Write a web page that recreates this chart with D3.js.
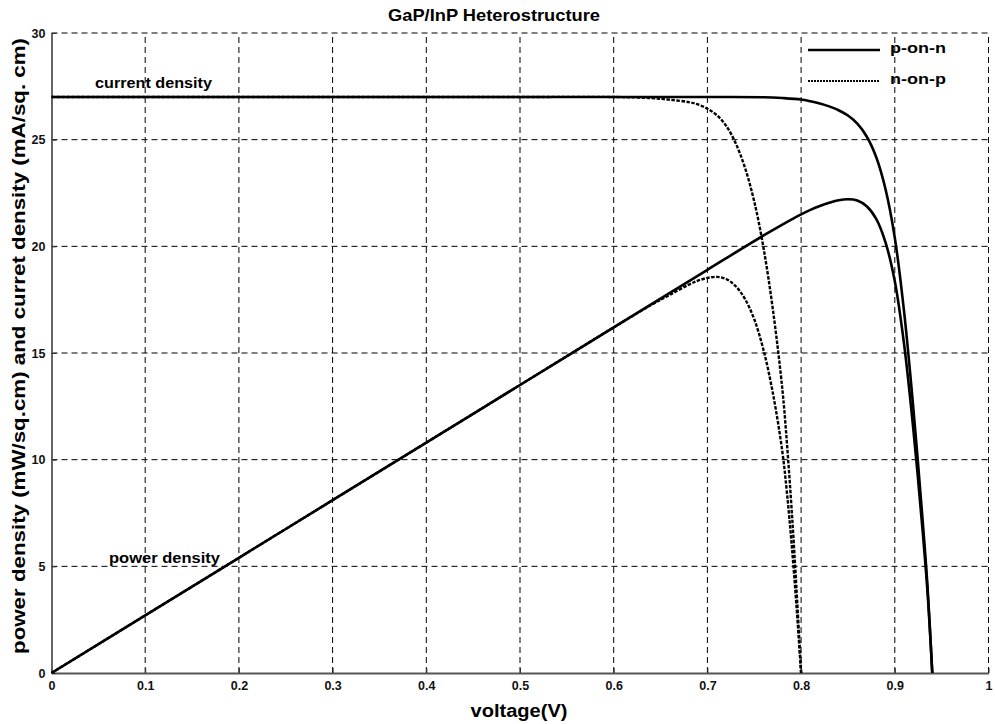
<!DOCTYPE html>
<html>
<head>
<meta charset="utf-8">
<script src="https://cdn.jsdelivr.net/npm/d3@7"></script>
<style>
  html, body { margin: 0; padding: 0; background: #fff; }
  svg { display: block; font-family: "Liberation Sans", Arial, sans-serif; }
</style>
</head>
<body>
<svg id="chart" width="995" height="724"></svg>
<script>
// GaP/InP heterostructure: J-V and P-V curves for two cell polarities

const xTicks = [0, 0.1, 0.2, 0.3, 0.4, 0.5, 0.6, 0.7, 0.8, 0.9, 1];
const yTicks = [0, 5, 10, 15, 20, 25, 30];

// p-on-n structure
const pnVoltage = [0, 0.1, 0.2, 0.3, 0.4, 0.5, 0.6, 0.7, 0.76, 0.78, 0.80, 0.81, 0.82, 0.83, 0.84, 0.85, 0.86, 0.87, 0.88, 0.89, 0.90, 0.91, 0.92, 0.93, 0.935, 0.94];
const pnCurrent = [27, 27, 27, 27, 27, 27, 27, 27, 26.99, 26.95, 26.88, 26.8, 26.7, 26.56, 26.38, 26.13, 25.75, 25.15, 24.2, 22.7, 20.4, 16.9, 12.3, 7.0, 4.0, 0];
const pnPower   = [0, 2.7, 5.4, 8.1, 10.8, 13.5, 16.2, 18.9, 20.51, 21.02, 21.50, 21.71, 21.89, 22.04, 22.16, 22.21, 22.15, 21.88, 21.30, 20.20, 18.36, 15.38, 11.32, 6.51, 3.74, 0];

// n-on-p structure
const npVoltage = [0, 0.1, 0.2, 0.3, 0.4, 0.5, 0.6, 0.64, 0.66, 0.68, 0.69, 0.70, 0.71, 0.72, 0.73, 0.74, 0.75, 0.76, 0.77, 0.78, 0.785, 0.79, 0.795, 0.80];
const npCurrent = [27, 27, 27, 27, 27, 27, 27, 26.95, 26.87, 26.76, 26.65, 26.45, 26.15, 25.65, 24.85, 23.7, 22.1, 19.9, 17.0, 13.3, 10.7, 7.6, 4.0, 0];
const npPower   = [0, 2.7, 5.4, 8.1, 10.8, 13.5, 16.2, 17.25, 17.73, 18.20, 18.39, 18.52, 18.57, 18.47, 18.14, 17.54, 16.58, 15.12, 13.09, 10.37, 8.40, 6.00, 3.18, 0];

const seriesNames = ["p-on-n", "n-on-p"];

const svg = d3.select("#chart");
const margin = { left: 51.5, right: 6.5, top: 33, bottom: 51 };
const W = 995, H = 724;

const x = d3.scaleLinear().domain([0, 1]).range([margin.left, W - margin.right]);
const y = d3.scaleLinear().domain([0, 30]).range([H - margin.bottom, margin.top]);

// grid
const grid = svg.append("g").attr("stroke", "#000").attr("stroke-width", 1).attr("stroke-dasharray", "6,4").attr("fill", "none");
xTicks.filter(d => d > 0).forEach(d => {
  grid.append("line").attr("x1", x(d)).attr("x2", x(d)).attr("y1", y(0)).attr("y2", y(30));
});
yTicks.filter(d => d > 0).forEach(d => {
  grid.append("line").attr("x1", x(0)).attr("x2", x(1)).attr("y1", y(d)).attr("y2", y(d));
});

// axes
const xAxis = d3.axisBottom(x).tickValues(xTicks).tickSizeInner(-5).tickSizeOuter(0).tickPadding(8)
  .tickFormat(d => d === 0 ? "0" : d === 1 ? "1" : d3.format(".1f")(d));
const yAxis = d3.axisLeft(y).tickValues(yTicks).tickSizeInner(-5).tickSizeOuter(0).tickPadding(6);

const gx = svg.append("g").attr("transform", `translate(0,${y(0)})`).call(xAxis);
const gy = svg.append("g").attr("transform", `translate(${x(0)},0)`).call(yAxis);
[gx, gy].forEach(g => {
  g.select(".domain").attr("stroke", "#555").attr("stroke-width", 1.8);
  g.selectAll(".tick line").attr("stroke", "#333").attr("stroke-width", 1);
  g.selectAll(".tick text").attr("font-size", 12.5).attr("font-weight", "bold")
    .attr("font-family", "Liberation Sans, Arial, sans-serif").attr("fill", "#111");
});

// curves
const line = d3.line().x(d => x(d[0])).y(d => y(d[1])).curve(d3.curveCatmullRom.alpha(0.5));
const zip = (a, b) => a.map((v, i) => [v, b[i]]);

const curves = [
  { data: zip(npVoltage, npCurrent), dash: "3.5,1.5", w: 2.4 },
  { data: zip(npVoltage, npPower), dash: "3.5,1.5", w: 2.4 },
  { data: zip(pnVoltage, pnCurrent), dash: null, w: 2.6 },
  { data: zip(pnVoltage, pnPower), dash: null, w: 2.6 }
];
curves.forEach(c => {
  svg.append("path").datum(c.data).attr("d", line)
    .attr("fill", "none").attr("stroke", "#000").attr("stroke-width", c.w)
    .attr("stroke-dasharray", c.dash);
});

// legend
const legend = svg.append("g");
seriesNames.forEach((name, i) => {
  const ly = 50 + i * 31;
  legend.append("line").attr("x1", 808).attr("x2", 880).attr("y1", ly).attr("y2", ly)
    .attr("stroke", "#000").attr("stroke-width", i === 0 ? 2.6 : 2.2)
    .attr("stroke-dasharray", i === 0 ? null : "2,1");
  legend.append("text").attr("x", 890).attr("y", ly + 3).text(name)
    .attr("font-size", 15).attr("font-weight", "bold").attr("fill", "#000")
    .attr("textLength", 56).attr("lengthAdjust", "spacingAndGlyphs");
});

// annotations
svg.append("text").attr("x", 95).attr("y", 88).text("current density")
  .attr("font-size", 15).attr("font-weight", "bold")
  .attr("textLength", 117).attr("lengthAdjust", "spacingAndGlyphs");
svg.append("text").attr("x", 109).attr("y", 563).text("power density")
  .attr("font-size", 15).attr("font-weight", "bold")
  .attr("textLength", 111).attr("lengthAdjust", "spacingAndGlyphs");

// title and axis labels
svg.append("text").attr("x", 494).attr("y", 21).attr("text-anchor", "middle")
  .text("GaP/InP Heterostructure").attr("font-size", 17).attr("font-weight", "bold")
  .attr("textLength", 212).attr("lengthAdjust", "spacingAndGlyphs");
svg.append("text").attr("x", 519).attr("y", 717).attr("text-anchor", "middle")
  .text("voltage(V)").attr("font-size", 18).attr("font-weight", "bold")
  .attr("textLength", 97).attr("lengthAdjust", "spacingAndGlyphs");
svg.append("text").attr("transform", "translate(25,346) rotate(-90)").attr("text-anchor", "middle")
  .text("power density (mW/sq.cm) and curret density (mA/sq. cm)")
  .attr("font-size", 18.5).attr("font-weight", "bold")
  .attr("textLength", 616).attr("lengthAdjust", "spacingAndGlyphs");
</script>
</body>
</html>
